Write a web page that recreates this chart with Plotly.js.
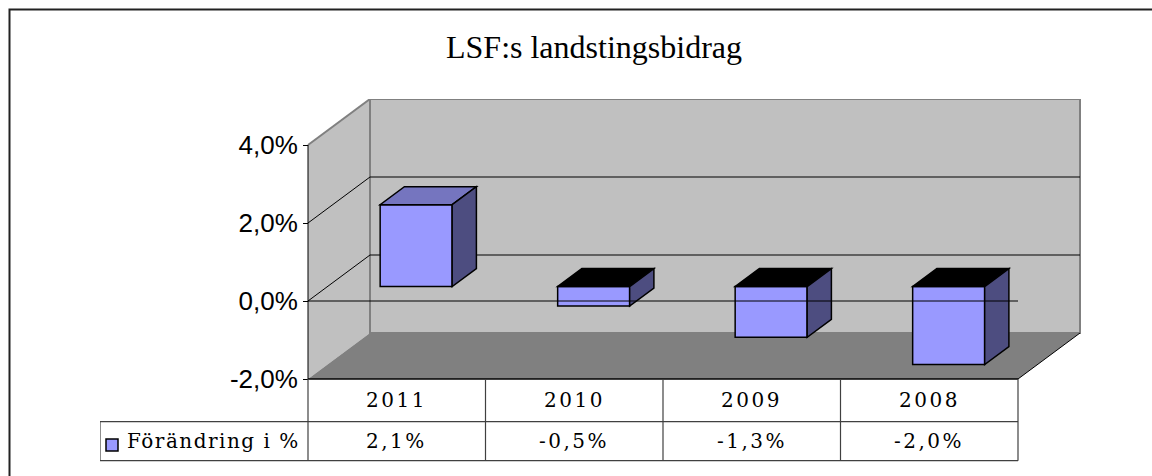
<!DOCTYPE html>
<html>
<head>
<meta charset="utf-8">
<script src="https://cdn.plot.ly/plotly-3.0.1.min.js"></script>
<style>
  html, body { margin: 0; padding: 0; background: #ffffff; }
  #chart { width: 1152px; height: 476px; }
  .annotation-text { letter-spacing: 2.5px; }
</style>
</head>
<body>
<div id="chart"></div>
<script>
// ---- data ----
const years = ['2011', '2010', '2009', '2008'];
const changePct = [2.1, -0.5, -1.3, -2.0];
const seriesName = 'Förändring i %';
const yTickVals = [-2, 0, 2, 4];
const yTickText = ['-2,0%', '0,0%', '2,0%', '4,0%'];
const chartTitle = 'LSF:s landstingsbidrag';

// ---- geometry (layout only) ----
const W = 1152, H = 476;
const PLOT_L = 100, PLOT_R = 1081, PLOT_T = 99, PLOT_B = 471;
const FRONT_X0 = 308;          // px of left front edge (category -0.5)
const FLOOR_Y = 379;           // px of -2 % on front plane
const PX_PER_CAT = 177.5, PX_PER_UNIT = 39;
const xMin = -0.5 - (FRONT_X0 - PLOT_L) / PX_PER_CAT;
const xMax = xMin + (PLOT_R - PLOT_L) / PX_PER_CAT;
const yMin0 = yTickVals[0];
const yMax = yMin0 + (FLOOR_Y - PLOT_T) / PX_PER_UNIT;
const yMin = yMax - (PLOT_B - PLOT_T) / PX_PER_UNIT;
const DX = 62 / PX_PER_CAT;    // full depth in x units
const DY = 46 / PX_PER_UNIT;   // full depth in y units
const F0 = 0.313, F1 = 0.704;  // bar depth fractions
const BAR_W = 72 / PX_PER_CAT;
const n = years.length;
const xL = -0.5, xR = n - 0.5;
const yLo = yTickVals[0], yHi = yTickVals[yTickVals.length - 1];
const HEAD_H = 42.7 / PX_PER_UNIT, ROW_H = 39 / PX_PER_UNIT;

const idx = years.map((_, i) => i);
const fmt = v => v.toFixed(1).replace('.', ',') + '%';

function poly(pts) {
  return 'M' + pts.map(p => p[0] + ',' + p[1]).join('L') + 'Z';
}

const shapes = [];
const GRAY = '#808080', WALL = '#c0c0c0';

// side wall
shapes.push({type: 'path', xref: 'x', yref: 'y', layer: 'below',
  path: poly([[xL, yLo], [xL, yHi], [xL + DX, yHi + DY], [xL + DX, yLo + DY]]),
  fillcolor: WALL, line: {width: 0}});
// back wall
shapes.push({type: 'path', xref: 'x', yref: 'y', layer: 'below',
  path: poly([[xL + DX, yLo + DY], [xL + DX, yHi + DY], [xR + DX, yHi + DY], [xR + DX, yLo + DY]]),
  fillcolor: WALL, line: {color: GRAY, width: 2}});
// floor
shapes.push({type: 'path', xref: 'x', yref: 'y', layer: 'below',
  path: poly([[xL, yLo], [xR, yLo], [xR + DX, yLo + DY], [xL + DX, yLo + DY]]),
  fillcolor: GRAY, line: {width: 0}});
// side wall top edge
shapes.push({type: 'line', xref: 'x', yref: 'y', layer: 'below',
  x0: xL, y0: yHi, x1: xL + DX, y1: yHi + DY, line: {color: GRAY, width: 2}});
// gridlines (inner ticks)
yTickVals.slice(1, -1).forEach(v => {
  shapes.push({type: 'path', xref: 'x', yref: 'y', layer: 'below',
    path: 'M' + xL + ',' + v + 'L' + (xL + DX) + ',' + (v + DY) + 'L' + (xR + DX) + ',' + (v + DY),
    line: {color: '#000000', width: 1}});
});
// floor right diagonal edge
shapes.push({type: 'line', xref: 'x', yref: 'y', layer: 'below',
  x0: xR, y0: yLo, x1: xR + DX, y1: yLo + DY, line: {color: '#000000', width: 1}});
// value axis line
shapes.push({type: 'line', xref: 'x', yref: 'y', layer: 'below',
  x0: xL, y0: yLo, x1: xL, y1: yHi, line: {color: '#000000', width: 1}});

// bar 3D faces
const ddx = (F1 - F0) * DX, ddy = (F1 - F0) * DY;
idx.forEach(i => {
  const v = changePct[i];
  const cx = i + F0 * DX;
  const a = cx - BAR_W / 2, b = cx + BAR_W / 2;
  const top = F0 * DY + Math.max(0, v), bot = F0 * DY + Math.min(0, v);
  shapes.push({type: 'path', xref: 'x', yref: 'y', layer: 'above',
    path: poly([[a, top], [b, top], [b + ddx, top + ddy], [a + ddx, top + ddy]]),
    fillcolor: v >= 0 ? '#7575bf' : '#000000', line: {color: '#000000', width: 1.5}});
  shapes.push({type: 'path', xref: 'x', yref: 'y', layer: 'above',
    path: poly([[b, bot], [b, top], [b + ddx, top + ddy], [b + ddx, bot + ddy]]),
    fillcolor: '#4d4d80', line: {color: '#000000', width: 1.5}});
});
// front zero line
shapes.push({type: 'line', xref: 'x', yref: 'y', layer: 'above',
  x0: xL, y0: 0, x1: xR, y1: 0, line: {color: '#000000', width: 1}});
// floor front edge
shapes.push({type: 'line', xref: 'x', yref: 'y', layer: 'above',
  x0: xL, y0: yLo, x1: xR, y1: yLo, line: {color: '#000000', width: 1.5}});

// data table
const TCOL = '#404040';
const yHeadBot = yLo - HEAD_H, yRowBot = yHeadBot - ROW_H;
const xLegL = xL - (FRONT_X0 - PLOT_L) / PX_PER_CAT;
shapes.push({type: 'line', xref: 'x', yref: 'y', layer: 'above',
  x0: xLegL, y0: yHeadBot, x1: xR, y1: yHeadBot, line: {color: TCOL, width: 1.2}});
shapes.push({type: 'line', xref: 'x', yref: 'y', layer: 'above',
  x0: xLegL, y0: yRowBot, x1: xR, y1: yRowBot, line: {color: TCOL, width: 1.2}});
shapes.push({type: 'line', xref: 'x', yref: 'y', layer: 'above',
  x0: xLegL, y0: yHeadBot, x1: xLegL, y1: yRowBot, line: {color: TCOL, width: 1.2}});
for (let k = 0; k <= n; k++) {
  shapes.push({type: 'line', xref: 'x', yref: 'y', layer: 'above',
    x0: k - 0.5, y0: yLo, x1: k - 0.5, y1: yRowBot, line: {color: TCOL, width: 1.2}});
}
// legend key
const keyX0 = xL - (FRONT_X0 - 106) / PX_PER_CAT, keyX1 = xL - (FRONT_X0 - 118) / PX_PER_CAT;
const keyY0 = yLo - (439 - FLOOR_Y) / PX_PER_UNIT, keyY1 = yLo - (451 - FLOOR_Y) / PX_PER_UNIT;
shapes.push({type: 'rect', xref: 'x', yref: 'y', layer: 'above',
  x0: keyX0, x1: keyX1, y0: keyY0, y1: keyY1, fillcolor: '#9999ff', line: {color: '#000000', width: 1.5}});

// outer frame (extends past the right/bottom edges)
const pw = PLOT_R - PLOT_L, ph = PLOT_B - PLOT_T;
shapes.push({type: 'rect', xref: 'paper', yref: 'paper', layer: 'above',
  x0: (9.5 - PLOT_L) / pw, x1: (W + 20 - PLOT_L) / pw,
  y0: (PLOT_B - (H + 20)) / ph, y1: (PLOT_B - 9.5) / ph,
  line: {color: '#222222', width: 2}});

const tableFont = {family: 'DejaVu Serif', size: 20, color: '#000000'};
const annotations = [];
idx.forEach(i => {
  annotations.push({xref: 'x', yref: 'y', x: i, y: yLo - HEAD_H / 2, text: years[i],
    showarrow: false, xanchor: 'center', yanchor: 'middle', font: tableFont});
  annotations.push({xref: 'x', yref: 'y', x: i, y: yHeadBot - ROW_H / 2, text: fmt(changePct[i]),
    showarrow: false, xanchor: 'center', yanchor: 'middle', font: tableFont});
});
annotations.push({xref: 'x', yref: 'y', x: xL - (FRONT_X0 - 125) / PX_PER_CAT, y: yHeadBot - ROW_H / 2,
  text: '<span style="letter-spacing:1.5px">' + seriesName + '</span>',
  showarrow: false, xanchor: 'left', yanchor: 'middle', font: tableFont});

const trace = {
  type: 'bar',
  x: idx.map(i => i + F0 * DX),
  y: changePct,
  base: F0 * DY,
  width: BAR_W,
  name: seriesName,
  marker: {color: '#9999ff', line: {color: '#000000', width: 1.5}},
  hoverinfo: 'skip'
};

const layout = {
  width: W, height: H,
  margin: {l: PLOT_L, r: W - PLOT_R, t: PLOT_T, b: H - PLOT_B, pad: 0},
  paper_bgcolor: '#ffffff', plot_bgcolor: 'rgba(0,0,0,0)',
  showlegend: false,
  title: {text: chartTitle, x: 594 / W, xref: 'container', xanchor: 'center',
    y: 1 - 47 / H, yref: 'container', yanchor: 'middle',
    font: {family: 'Liberation Serif', size: 32, color: '#000000'}},
  xaxis: {range: [xMin, xMax], visible: false, fixedrange: true},
  yaxis: {range: [yMin, yMax], anchor: 'free', position: (FRONT_X0 - PLOT_L) / pw, side: 'left',
    tickvals: yTickVals, ticktext: yTickText, ticks: 'outside', ticklen: 5, tickcolor: '#000000', tickwidth: 1,
    tickfont: {family: 'Liberation Sans, Arial', size: 26, color: '#000000'},
    showgrid: false, zeroline: false, showline: false, fixedrange: true},
  shapes: shapes,
  annotations: annotations
};

Plotly.newPlot('chart', [trace], layout, {staticPlot: true, displayModeBar: false});
</script>
</body>
</html>
